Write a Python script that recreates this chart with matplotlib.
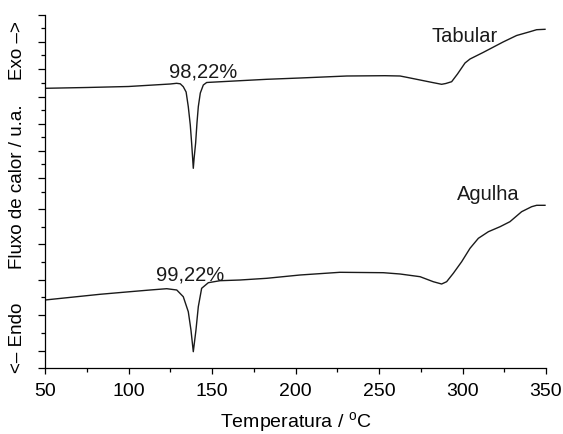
import matplotlib
matplotlib.use("Agg")
import matplotlib.pyplot as plt
from matplotlib.ticker import FixedLocator, MultipleLocator

plt.rcParams['font.family'] = ['Liberation Sans', 'DejaVu Sans']
plt.rcParams['mathtext.fontset'] = 'custom'
plt.rcParams['mathtext.rm'] = 'Liberation Sans'

# Tabular (upper curve)
tab_T = [50, 75, 100, 115, 125, 128.8, 131, 132.8, 134.5, 135.8, 137, 137.8, 138.4, 138.8,
         139.3, 140.2, 141, 141.8, 143, 144.8, 146.8, 148.8, 166.8, 182.8, 202.7, 230.7,
         253.6, 262.6, 266.6, 274.6, 282, 287.5, 290, 293.5, 297, 301.5, 304.5, 312.3,
         324.3, 332.4, 340.4, 344.4, 349.4]
tab_Q = [279.7, 280.5, 281.5, 283, 284, 284.7, 284.2, 281.3, 276, 261.3, 243, 225, 210, 199.7,
         210, 225, 245, 261.3, 275, 283, 285.5, 285.7, 287.3, 288.7, 290, 292,
         292.3, 292, 290.7, 288, 285.5, 283.7, 284.5, 286.3, 294, 305, 309, 315.5,
         326, 332.5, 336.3, 338.3, 338.7]

# Agulha (lower curve)
agu_T = [50, 82.9, 100.9, 112.9, 122.9, 128.9, 132.8, 135.8, 137.4, 138.8, 140.4, 141.8,
         143.8, 147.8, 154.8, 166.8, 182.8, 202.7, 226.6, 252.6, 262.6, 274.6, 282.5,
         287.5, 290.5, 294.5, 299.5, 304.5, 309.5, 315.5, 322.5, 328.4, 335.4, 341.4,
         344.4, 349.4]
agu_Q = [68, 73.7, 76.3, 78, 79.3, 78, 71.3, 56.3, 38, 16.3, 38, 61.3,
         79.7, 85.3, 87.3, 88, 89.7, 93, 95.7, 95.3, 94, 91.3, 86.3,
         84, 86.3, 94.7, 106.3, 119.7, 129.7, 136.3, 141.3, 146.3, 156.3, 161.3,
         162.7, 162.7]

y_major = [0, 17, 53, 88, 123.7, 158.7, 190.3, 217.3, 244.3, 271.3, 298.7, 325.7, 353]
y_minor = [35, 70.7, 106.3, 141.3, 176.3, 204, 231.3, 258, 285.3, 313, 339.7]
x_ticks = [50, 100, 150, 200, 250, 300, 350]

labels = [("98,22%", 144.9, 296), ("99,22%", 137.1, 93),
          ("Tabular", 301.5, 332), ("Agulha", 315.3, 174)]

fig = plt.figure(figsize=(5.63, 4.34), dpi=100)
ax = fig.add_axes([45/563, 66/434, 501/563, 353/434])
ax.plot(tab_T, tab_Q, color='#1a1a1a', lw=1.0)
ax.plot(agu_T, agu_Q, color='#1a1a1a', lw=1.0)
ax.set_xlim(50, 350)
ax.set_ylim(0, 353)
ax.set_xticks(x_ticks)
ax.xaxis.set_minor_locator(MultipleLocator(25))
ax.yaxis.set_major_locator(FixedLocator(y_major))
ax.yaxis.set_minor_locator(FixedLocator(y_minor))
ax.set_yticklabels([])
for s in ['top', 'right']:
    ax.spines[s].set_visible(False)
for s in ['left', 'bottom']:
    ax.spines[s].set_linewidth(0.9)
ax.tick_params(axis='x', which='major', direction='out', length=4, width=0.9, labelsize=14, pad=7)
ax.tick_params(axis='x', which='minor', direction='out', length=3, width=0.9)
ax.tick_params(axis='y', which='major', direction='out', length=5, width=0.9)
ax.tick_params(axis='y', which='minor', direction='out', length=3, width=0.9)
ax.set_xlabel("Temperatura / $^\\mathregular{o}$C", fontsize=14, labelpad=7)

for txt, x, y in labels:
    ax.text(x, y, txt, fontsize=14.5, ha='center', va='center', color='#1a1a1a')

fig.text(18/563, 1 - 51/434, "Exo \u2013>", rotation=90, fontsize=13.5, ha='center', va='center')
fig.text(18/563, 1 - 187/434, "Fluxo de calor / u.a.", rotation=90, fontsize=13.5, ha='center', va='center')
fig.text(18/563, 1 - 338/434, "<\u2013 Endo", rotation=90, fontsize=13.5, ha='center', va='center')

fig.savefig("out.png", dpi=100)
